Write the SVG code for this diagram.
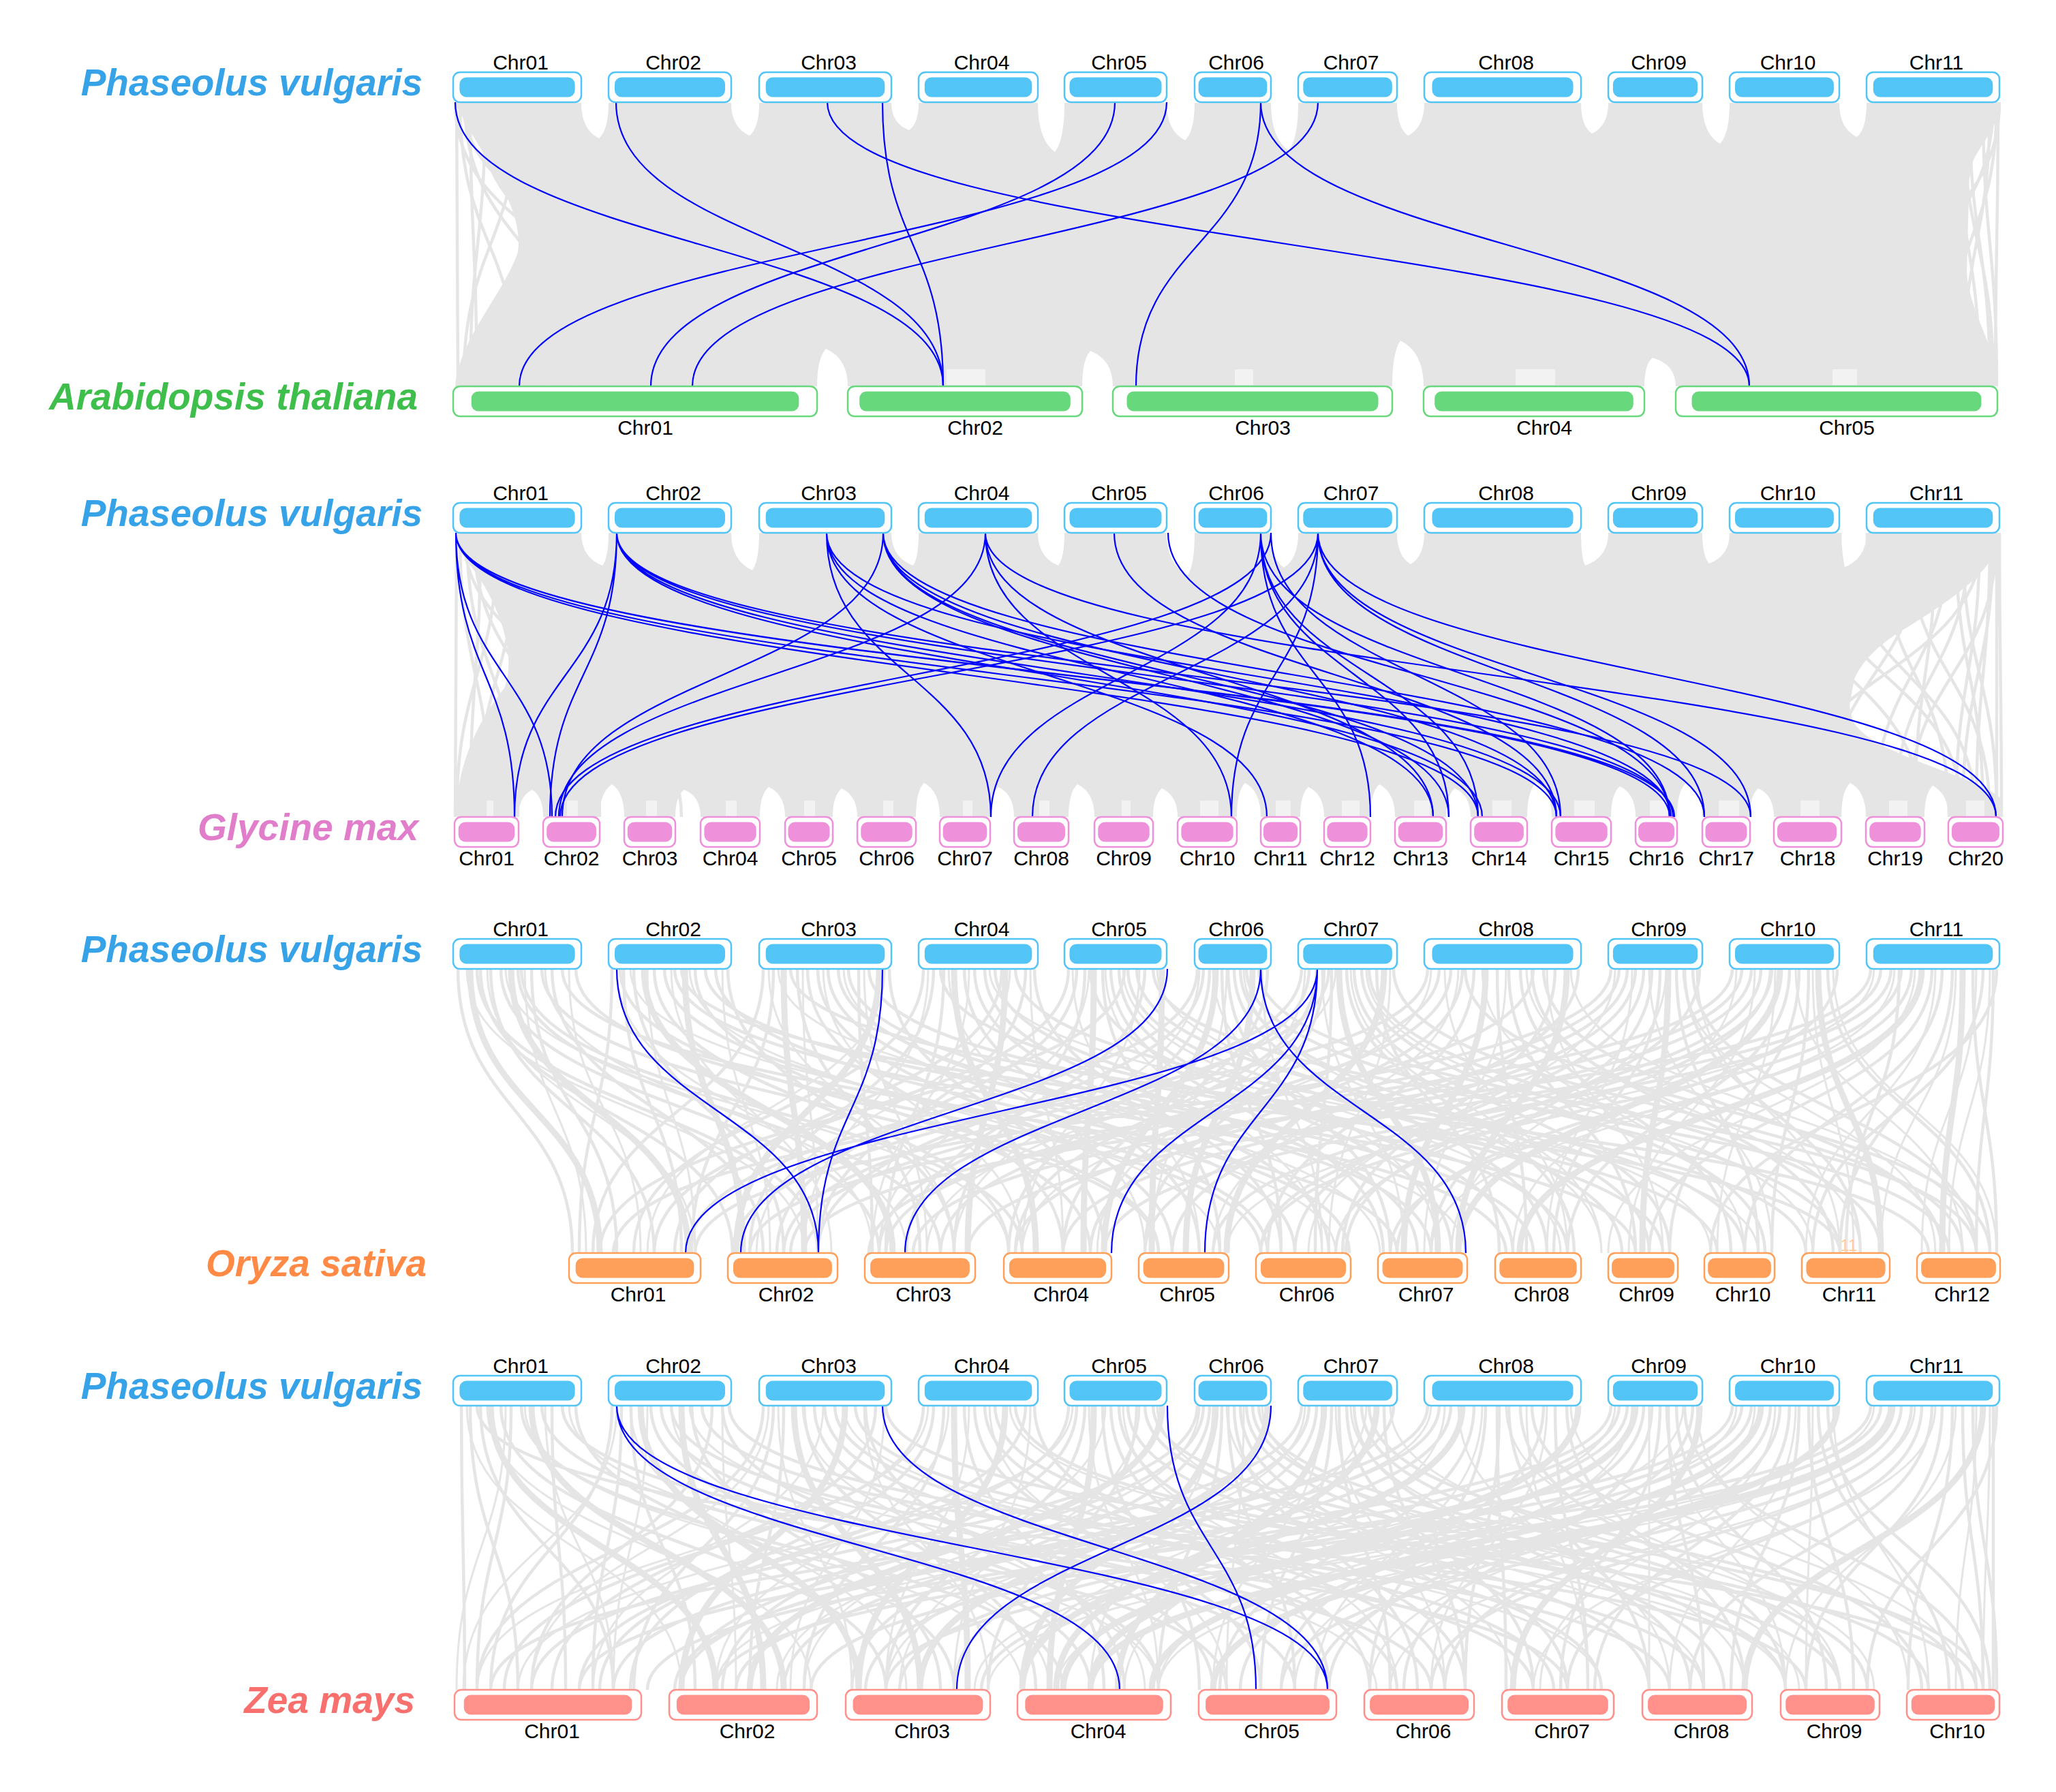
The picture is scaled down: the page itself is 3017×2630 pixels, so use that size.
<svg xmlns="http://www.w3.org/2000/svg" width="3017" height="2630" viewBox="0 0 3017 2630">
<style>
.solid{fill:#E5E5E5}
.g{fill:none;stroke:#E5E5E5;stroke-width:4.5}
.g3{fill:none;stroke:#E5E5E5;stroke-width:3}
.gt{fill:none;stroke:#E5E5E5;stroke-width:9}
.patch{fill:#F2F2F2}
.b{fill:none;stroke:#0000FF;stroke-width:2.2}
.lbl{font-family:"Liberation Sans",Arial,sans-serif;font-size:30px;fill:#000;text-anchor:middle}
.sp{font-family:"Liberation Sans",Arial,sans-serif;font-size:55px;font-weight:bold;font-style:italic;text-anchor:end}
.pvo{fill:#fff;stroke:#52C4F6;stroke-width:2.5}.pvi{fill:#52C4F6}
.ato{fill:#fff;stroke:#68D87C;stroke-width:2.5}.ati{fill:#68D87C}
.gmo{fill:#fff;stroke:#EE90DA;stroke-width:2.5}.gmi{fill:#EE90DA}
.oso{fill:#fff;stroke:#FFA05A;stroke-width:2.5}.osi{fill:#FFA05A}
.zmo{fill:#fff;stroke:#FF918A;stroke-width:2.5}.zmi{fill:#FF918A}
</style>
<rect width="3017" height="2630" fill="#fff"/>
<g id="connectors">
<g id="s1-grey">
<path class="solid" d="M668 151L853 151Q853 190 879 203Q893 190 893 151L1073 151Q1073 187 1100 199Q1114 187 1114 151L1308 151Q1308 181 1334 191Q1348 181 1348 151L1523 151Q1523 205 1548 223Q1562 205 1562 151L1712 151Q1712 192 1739 206Q1753 192 1753 151L1865 151Q1865 203 1891 221Q1905 203 1905 151L2050 151Q2050 187 2066 199Q2090 187 2090 151L2320 151Q2320 185 2336 196Q2360 185 2360 151L2498 151Q2498 196 2524 211Q2538 196 2538 151L2699 151Q2699 189 2725 201Q2739 189 2739 151L2934 151C2934 190 2900 215 2890 250L2886 400C2890 460 2931 510 2931 567L2459 567Q2459 535 2425 525Q2413 535 2413 567L2089 567Q2089 517 2055 500Q2043 517 2043 567L1633 567Q1633 528 1600 515Q1588 528 1588 567L1244 567Q1244 526 1212 512Q1199 526 1199 567L668 567C672 500 740 430 760 370C770 300 700 220 668 151Z"/>
<path class="g" transform="translate(0,150)" d="M670 0C670 208 672 208 672 417M675 0C675 208 760 208 760 417M682 0C682 208 850 208 850 417M690 0C690 208 700 208 700 417M700 0C700 208 920 208 920 417M712 0C712 208 690 208 690 417M725 0C725 208 1000 208 1000 417M740 0C740 208 800 208 800 417M680 0C680 208 1100 208 1100 417M760 0C760 208 680 208 680 417M668 0C668 208 950 208 950 417M700 0C700 208 1150 208 1150 417M2932 0C2932 208 2928 208 2928 417M2920 0C2920 208 2880 208 2880 417M2910 0C2910 208 2930 208 2930 417M2900 0C2900 208 2800 208 2800 417M2890 0C2890 208 2920 208 2920 417M2930 0C2930 208 2850 208 2850 417M2880 0C2880 208 2925 208 2925 417M2925 0C2925 208 2760 208 2760 417M2870 0C2870 208 2905 208 2905 417M2934 0C2934 208 2700 208 2700 417"/>
<rect class="patch" x="1389" y="542" width="57" height="23"/>
<rect class="patch" x="1812" y="542" width="27" height="23"/>
<rect class="patch" x="2224" y="542" width="58" height="23"/>
<rect class="patch" x="2689" y="542" width="36" height="23"/>
</g>
<g id="s1-blue" class="b" transform="translate(0,150)">
<path d="M668 0C668 208.5 1384 208.5 1384 417"/>
<path d="M904 0C904 208.5 1384 208.5 1384 417"/>
<path d="M1214 0C1214 208.5 2567 208.5 2567 417"/>
<path d="M1295 0C1295 208.5 1384 208.5 1384 417"/>
<path d="M1636 0C1636 208.5 955 208.5 955 417"/>
<path d="M1712 0C1712 208.5 762 208.5 762 417"/>
<path d="M1934 0C1934 208.5 1016 208.5 1016 417"/>
<path d="M1850 0C1850 208.5 1667 208.5 1667 417"/>
<path d="M1850 0C1850 208.5 2567 208.5 2567 417"/>
</g>
<g id="s2-grey">
<path class="solid" d="M668 782L853 782Q853 818 884 830Q893 818 893 782L1073 782Q1073 823 1104 837Q1114 823 1114 782L1308 782Q1308 818 1340 830Q1348 818 1348 782L1523 782Q1523 818 1553 830Q1562 818 1562 782L1712 782Q1712 828 1743 844Q1753 828 1753 782L1865 782Q1865 820 1884 833Q1905 820 1905 782L2050 782Q2050 816 2070 828Q2090 816 2090 782L2320 782Q2320 818 2326 830Q2360 818 2360 782L2498 782Q2498 816 2508 827Q2538 816 2538 782L2699 782Q2699 821 2703 834Q2739 821 2739 782L2934 782C2934 830 2880 870 2800 920C2730 960 2700 1010 2720 1060C2750 1110 2910 1140 2939 1175L2939 1199L2859 1199Q2859 1165 2836 1153Q2824 1165 2824 1199L2738 1199Q2738 1161 2715 1149Q2702 1161 2702 1199L2603 1199Q2603 1167 2580 1157Q2568 1167 2568 1199L2498 1199Q2498 1161 2474 1149Q2461 1161 2461 1199L2400 1199Q2400 1165 2377 1154Q2364 1165 2364 1199L2277 1199Q2277 1161 2254 1149Q2241 1161 2241 1199L2158 1199Q2158 1167 2135 1157Q2122 1167 2122 1199L2047 1199Q2047 1163 2024 1151Q2011 1163 2011 1199L1943 1199Q1943 1166 1920 1155Q1908 1166 1908 1199L1850 1199Q1850 1161 1827 1149Q1815 1161 1815 1199L1728 1199Q1728 1168 1705 1157Q1692 1168 1692 1199L1606 1199Q1606 1163 1581 1151Q1568 1163 1568 1199L1488 1199Q1488 1166 1465 1155Q1453 1166 1453 1199L1379 1199Q1379 1161 1356 1149Q1344 1161 1344 1199L1258 1199Q1258 1168 1235 1157Q1222 1168 1222 1199L1152 1199Q1152 1166 1128 1155Q1115 1166 1115 1199L1028 1199Q1028 1169 1004 1159Q991 1169 991 1199L916 1199Q916 1163 898 1151Q880 1163 880 1199L797 1199Q797 1169 781 1159Q761 1169 761 1199L668 1199C672 1120 700 1060 740 1010C760 960 730 880 690 830C675 810 668 795 668 782Z"/>
<path class="g" transform="translate(0,782)" d="M670 0C670 208 668 208 668 417M675 0C675 208 720 208 720 417M685 0C685 208 760 208 760 417M695 0C695 208 840 208 840 417M705 0C705 208 690 208 690 417M720 0C720 208 880 208 880 417M740 0C740 208 950 208 950 417M760 0C760 208 700 208 700 417M680 0C680 208 1000 208 1000 417M700 0C700 208 1050 208 1050 417M730 0C730 208 670 208 670 417M2934 0C2934 208 2937 208 2937 417M2920 0C2920 208 2900 208 2900 417M2905 0C2905 208 2870 208 2870 417M2890 0C2890 208 2780 208 2780 417M2880 0C2880 208 2930 208 2930 417M2860 0C2860 208 2750 208 2750 417M2840 0C2840 208 2810 208 2810 417M2820 0C2820 208 2680 208 2680 417M2800 0C2800 208 2920 208 2920 417M2780 0C2780 208 2640 208 2640 417M2760 0C2760 208 2860 208 2860 417M2740 0C2740 208 2700 208 2700 417M2930 0C2930 208 2800 208 2800 417M2910 0C2910 208 2620 208 2620 417M2870 0C2870 208 2910 208 2910 417M2700 0C2700 208 2900 208 2900 417M2650 0C2650 208 2880 208 2880 417M2600 0C2600 208 2820 208 2820 417M2930 0C2930 208 2930 208 2930 417M2925 0C2925 208 2880 208 2880 417"/>
<g class="patch">
<rect x="714" y="1175" width="10" height="23"/><rect x="832" y="1175" width="16" height="23"/><rect x="948" y="1175" width="16" height="23"/><rect x="1065" y="1175" width="16" height="23"/><rect x="1180" y="1175" width="16" height="23"/><rect x="1296" y="1175" width="15" height="23"/><rect x="1413" y="1175" width="14" height="23"/><rect x="1525" y="1175" width="15" height="23"/><rect x="1646" y="1175" width="13" height="23"/><rect x="1761" y="1175" width="27" height="23"/><rect x="1872" y="1175" width="22" height="23"/><rect x="1969" y="1175" width="26" height="23"/><rect x="2075" y="1175" width="23" height="23"/><rect x="2190" y="1175" width="28" height="23"/><rect x="2310" y="1175" width="30" height="23"/><rect x="2421" y="1175" width="26" height="23"/><rect x="2522" y="1175" width="30" height="23"/><rect x="2642" y="1175" width="28" height="23"/><rect x="2772" y="1175" width="27" height="23"/><rect x="2885" y="1175" width="27" height="23"/>
</g>
</g>
<g id="s2-blue" class="b" transform="translate(0,782)">
<path d="M669 0C669 208.5 755 208.5 755 417M669 0C669 208.5 810 208.5 810 417M669 0C669 208.5 2169 208.5 2169 417M669 0C669 208.5 2284 208.5 2284 417M669 0C669 208.5 2450 208.5 2450 417M669 0C669 208.5 2457 208.5 2457 417"/>
<path d="M905 0C905 208.5 755 208.5 755 417M905 0C905 208.5 807 208.5 807 417M905 0C905 208.5 2175 208.5 2175 417M905 0C905 208.5 2290 208.5 2290 417M905 0C905 208.5 2455 208.5 2455 417M905 0C905 208.5 2569 208.5 2569 417"/>
<path d="M1213 0C1213 208.5 1454 208.5 1454 417M1213 0C1213 208.5 1859 208.5 1859 417M1213 0C1213 208.5 2103 208.5 2103 417M1213 0C1213 208.5 2452 208.5 2452 417"/>
<path d="M1296 0C1296 208.5 825 208.5 825 417M1296 0C1296 208.5 2126 208.5 2126 417M1296 0C1296 208.5 2169 208.5 2169 417M1296 0C1296 208.5 2284 208.5 2284 417M1296 0C1296 208.5 2501 208.5 2501 417"/>
<path d="M1446 0C1446 208.5 820 208.5 820 417M1446 0C1446 208.5 1807 208.5 1807 417M1446 0C1446 208.5 2103 208.5 2103 417M1446 0C1446 208.5 2929 208.5 2929 417"/>
<path d="M1635 0C1635 208.5 2284 208.5 2284 417M1714 0C1714 208.5 2450 208.5 2450 417"/>
<path d="M1850 0C1850 208.5 1454 208.5 1454 417M1850 0C1850 208.5 2011 208.5 2011 417M1850 0C1850 208.5 2126 208.5 2126 417M1850 0C1850 208.5 2169 208.5 2169 417M1850 0C1850 208.5 2450 208.5 2450 417M1865 0C1865 208.5 815 208.5 815 417M1865 0C1865 208.5 2290 208.5 2290 417"/>
<path d="M1934 0C1934 208.5 822 208.5 822 417M1934 0C1934 208.5 1515 208.5 1515 417M1934 0C1934 208.5 1807 208.5 1807 417M1934 0C1934 208.5 2501 208.5 2501 417M1934 0C1934 208.5 2569 208.5 2569 417M1934 0C1934 208.5 2929 208.5 2929 417"/>
</g>
<g id="s3-grey" transform="translate(0,1422)">
<path class="g" d="M672 0C672 208 840 208 840 417M690 0C690 208 880 208 880 417M705 0C705 208 1075 208 1075 417M720 0C720 208 960 208 960 417M735 0C735 208 1290 208 1290 417M750 0C750 208 1010 208 1010 417M765 0C765 208 1500 208 1500 417M780 0C780 208 905 208 905 417M795 0C795 208 1700 208 1700 417M810 0C810 208 1120 208 1120 417M825 0C825 208 2050 208 2050 417M845 0C845 208 1850 208 1850 417M700 0C700 208 1200 208 1200 417M760 0C760 208 1380 208 1380 417M898 0C898 208 850 208 850 417M915 0C915 208 1000 208 1000 417M930 0C930 208 1150 208 1150 417M945 0C945 208 1310 208 1310 417M960 0C960 208 1480 208 1480 417M975 0C975 208 1860 208 1860 417M990 0C990 208 2210 208 2210 417M1005 0C1005 208 1090 208 1090 417M1020 0C1020 208 1600 208 1600 417M1035 0C1035 208 2400 208 2400 417M1050 0C1050 208 1980 208 1980 417M1068 0C1068 208 1400 208 1400 417M910 0C910 208 1700 208 1700 417M1000 0C1000 208 2700 208 2700 417M1120 0C1120 208 870 208 870 417M1135 0C1135 208 1015 208 1015 417M1150 0C1150 208 1180 208 1180 417M1170 0C1170 208 1350 208 1350 417M1185 0C1185 208 1560 208 1560 417M1200 0C1200 208 1720 208 1720 417M1215 0C1215 208 1900 208 1900 417M1230 0C1230 208 2100 208 2100 417M1245 0C1245 208 2250 208 2250 417M1260 0C1260 208 1280 208 1280 417M1275 0C1275 208 2520 208 2520 417M1290 0C1290 208 1080 208 1080 417M1305 0C1305 208 1620 208 1620 417M1160 0C1160 208 2830 208 2830 417M1355 0C1355 208 930 208 930 417M1370 0C1370 208 1100 208 1100 417M1385 0C1385 208 1300 208 1300 417M1400 0C1400 208 1520 208 1520 417M1415 0C1415 208 1760 208 1760 417M1430 0C1430 208 1950 208 1950 417M1445 0C1445 208 2080 208 2080 417M1460 0C1460 208 2300 208 2300 417M1475 0C1475 208 1420 208 1420 417M1490 0C1490 208 2650 208 2650 417M1505 0C1505 208 1200 208 1200 417M1518 0C1518 208 1880 208 1880 417M1380 0C1380 208 2440 208 2440 417M1470 0C1470 208 990 208 990 417M1568 0C1568 208 960 208 960 417M1580 0C1580 208 1140 208 1140 417M1592 0C1592 208 1400 208 1400 417M1605 0C1605 208 1590 208 1590 417M1618 0C1618 208 1790 208 1790 417M1630 0C1630 208 2030 208 2030 417M1642 0C1642 208 2130 208 2130 417M1655 0C1655 208 2380 208 2380 417M1668 0C1668 208 2560 208 2560 417M1680 0C1680 208 1330 208 1330 417M1692 0C1692 208 2860 208 2860 417M1705 0C1705 208 1690 208 1690 417M1600 0C1600 208 2220 208 2220 417M1650 0C1650 208 880 208 880 417M1757 0C1757 208 1010 208 1010 417M1766 0C1766 208 1200 208 1200 417M1775 0C1775 208 1480 208 1480 417M1784 0C1784 208 1620 208 1620 417M1793 0C1793 208 1880 208 1880 417M1802 0C1802 208 2040 208 2040 417M1811 0C1811 208 2270 208 2270 417M1820 0C1820 208 2420 208 2420 417M1829 0C1829 208 2700 208 2700 417M1838 0C1838 208 1740 208 1740 417M1847 0C1847 208 2900 208 2900 417M1860 0C1860 208 1560 208 1560 417M1910 0C1910 208 1075 208 1075 417M1921 0C1921 208 1290 208 1290 417M1932 0C1932 208 1490 208 1490 417M1943 0C1943 208 1680 208 1680 417M1954 0C1954 208 1930 208 1930 417M1965 0C1965 208 2110 208 2110 417M1976 0C1976 208 2310 208 2310 417M1987 0C1987 208 2450 208 2450 417M1998 0C1998 208 2590 208 2590 417M2009 0C2009 208 2760 208 2760 417M2020 0C2020 208 2200 208 2200 417M2031 0C2031 208 1800 208 1800 417M2045 0C2045 208 2880 208 2880 417M1950 0C1950 208 1150 208 1150 417M2095 0C2095 208 900 208 900 417M2112 0C2112 208 1160 208 1160 417M2129 0C2129 208 1380 208 1380 417M2146 0C2146 208 1600 208 1600 417M2163 0C2163 208 1860 208 1860 417M2180 0C2180 208 2060 208 2060 417M2197 0C2197 208 2240 208 2240 417M2214 0C2214 208 2400 208 2400 417M2231 0C2231 208 2540 208 2540 417M2248 0C2248 208 2690 208 2690 417M2265 0C2265 208 2850 208 2850 417M2282 0C2282 208 1970 208 1970 417M2299 0C2299 208 2140 208 2140 417M2316 0C2316 208 1720 208 1720 417M2150 0C2150 208 2920 208 2920 417M2250 0C2250 208 1300 208 1300 417M2364 0C2364 208 1020 208 1020 417M2376 0C2376 208 1275 208 1275 417M2388 0C2388 208 1490 208 1490 417M2400 0C2400 208 1680 208 1680 417M2412 0C2412 208 1900 208 1900 417M2424 0C2424 208 2100 208 2100 417M2436 0C2436 208 2280 208 2280 417M2448 0C2448 208 2410 208 2410 417M2460 0C2460 208 2580 208 2580 417M2472 0C2472 208 2730 208 2730 417M2484 0C2484 208 2900 208 2900 417M2494 0C2494 208 1975 208 1975 417M2542 0C2542 208 1100 208 1100 417M2556 0C2556 208 1340 208 1340 417M2570 0C2570 208 1560 208 1560 417M2584 0C2584 208 1780 208 1780 417M2598 0C2598 208 1960 208 1960 417M2612 0C2612 208 2140 208 2140 417M2626 0C2626 208 2300 208 2300 417M2640 0C2640 208 2450 208 2450 417M2654 0C2654 208 2600 208 2600 417M2668 0C2668 208 2760 208 2760 417M2682 0C2682 208 2920 208 2920 417M2696 0C2696 208 2050 208 2050 417M2600 0C2600 208 1850 208 1850 417M2745 0C2745 208 1180 208 1180 417M2760 0C2760 208 1420 208 1420 417M2775 0C2775 208 1620 208 1620 417M2790 0C2790 208 1850 208 1850 417M2805 0C2805 208 2040 208 2040 417M2820 0C2820 208 2230 208 2230 417M2835 0C2835 208 2420 208 2420 417M2850 0C2850 208 2560 208 2560 417M2865 0C2865 208 2700 208 2700 417M2880 0C2880 208 2850 208 2850 417M2895 0C2895 208 2930 208 2930 417M2910 0C2910 208 2660 208 2660 417M2925 0C2925 208 2900 208 2900 417M2787 0C2787 208 2709 208 2709 417M2930 0C2930 208 2510 208 2510 417"/>
<path class="g3" d="M685 0C685 208 1180 208 1180 417M715 0C715 208 1020 208 1020 417M742 0C742 208 1480 208 1480 417M770 0C770 208 860 208 860 417M800 0C800 208 1330 208 1330 417M835 0C835 208 940 208 940 417M905 0C905 208 1280 208 1280 417M925 0C925 208 1960 208 1960 417M950 0C950 208 1020 208 1020 417M985 0C985 208 1220 208 1220 417M1012 0C1012 208 1790 208 1790 417M1060 0C1060 208 1130 208 1130 417M1128 0C1128 208 1400 208 1400 417M1142 0C1142 208 2150 208 2150 417M1178 0C1178 208 1200 208 1200 417M1208 0C1208 208 1500 208 1500 417M1238 0C1238 208 2025 208 2025 417M1268 0C1268 208 1360 208 1360 417M1298 0C1298 208 950 208 950 417M1362 0C1362 208 1180 208 1180 417M1392 0C1392 208 1680 208 1680 417M1422 0C1422 208 1280 208 1280 417M1452 0C1452 208 2580 208 2580 417M1482 0C1482 208 1110 208 1110 417M1512 0C1512 208 1560 208 1560 417M1574 0C1574 208 1760 208 1760 417M1598 0C1598 208 1290 208 1290 417M1622 0C1622 208 1940 208 1940 417M1648 0C1648 208 2290 208 2290 417M1672 0C1672 208 1500 208 1500 417M1698 0C1698 208 2510 208 2510 417M1760 0C1760 208 1400 208 1400 417M1780 0C1780 208 2110 208 2110 417M1800 0C1800 208 1690 208 1690 417M1825 0C1825 208 2350 208 2350 417M1852 0C1852 208 1940 208 1940 417M1915 0C1915 208 1610 208 1610 417M1940 0C1940 208 2060 208 2060 417M1960 0C1960 208 1360 208 1360 417M1982 0C1982 208 2350 208 2350 417M2005 0C2005 208 2660 208 2660 417M2040 0C2040 208 1950 208 1950 417M2100 0C2100 208 1500 208 1500 417M2120 0C2120 208 2300 208 2300 417M2140 0C2140 208 1780 208 1780 417M2175 0C2175 208 2560 208 2560 417M2210 0C2210 208 2090 208 2090 417M2240 0C2240 208 2730 208 2730 417M2270 0C2270 208 2440 208 2440 417M2305 0C2305 208 2900 208 2900 417M2370 0C2370 208 1920 208 1920 417M2395 0C2395 208 2270 208 2270 417M2420 0C2420 208 2600 208 2600 417M2445 0C2445 208 2130 208 2130 417M2470 0C2470 208 2840 208 2840 417M2490 0C2490 208 2700 208 2700 417M2548 0C2548 208 2220 208 2220 417M2575 0C2575 208 2390 208 2390 417M2605 0C2605 208 2520 208 2520 417M2635 0C2635 208 2880 208 2880 417M2660 0C2660 208 2720 208 2720 417M2690 0C2690 208 2930 208 2930 417M2750 0C2750 208 1800 208 1800 417M2780 0C2780 208 2100 208 2100 417M2810 0C2810 208 2360 208 2360 417M2840 0C2840 208 2650 208 2650 417M2870 0C2870 208 2760 208 2760 417M2900 0C2900 208 2820 208 2820 417M2920 0C2920 208 2860 208 2860 417"/>
<path class="gt" d="M690 0C690 208 880 208 880 417M750 0C750 208 1010 208 1010 417M945 0C945 208 1310 208 1310 417M1005 0C1005 208 1090 208 1090 417M1150 0C1150 208 1180 208 1180 417M1290 0C1290 208 1080 208 1080 417M1400 0C1400 208 1520 208 1520 417M1475 0C1475 208 1420 208 1420 417M1605 0C1605 208 1590 208 1590 417M1705 0C1705 208 1690 208 1690 417M1784 0C1784 208 1620 208 1620 417M1838 0C1838 208 1740 208 1740 417M1965 0C1965 208 2110 208 2110 417M2031 0C2031 208 1800 208 1800 417M2180 0C2180 208 2060 208 2060 417M2299 0C2299 208 2140 208 2140 417M2448 0C2448 208 2410 208 2410 417M2612 0C2612 208 2140 208 2140 417M2668 0C2668 208 2760 208 2760 417M2820 0C2820 208 2230 208 2230 417M2880 0C2880 208 2850 208 2850 417"/>
</g>
<g id="s3-blue" class="b" transform="translate(0,1422)">
<path d="M905 0C905 208.5 1201 208.5 1201 417M1295 0C1295 208.5 1201 208.5 1201 417M1713 0C1713 208.5 1087 208.5 1087 417M1850 0C1850 208.5 1328 208.5 1328 417M1850 0C1850 208.5 2151 208.5 2151 417M1933 0C1933 208.5 1006 208.5 1006 417M1933 0C1933 208.5 1631 208.5 1631 417M1933 0C1933 208.5 1768 208.5 1768 417"/>
</g>
<g id="s4-grey" transform="translate(0,2063)">
<path class="g" d="M677 0C677 208 682 208 682 417M690 0C690 208 760 208 760 417M705 0C705 208 900 208 900 417M720 0C720 208 1050 208 1050 417M735 0C735 208 1300 208 1300 417M750 0C750 208 700 208 700 417M765 0C765 208 1560 208 1560 417M780 0C780 208 1150 208 1150 417M795 0C795 208 1800 208 1800 417M810 0C810 208 830 208 830 417M825 0C825 208 2100 208 2100 417M845 0C845 208 1400 208 1400 417M700 0C700 208 2300 208 2300 417M898 0C898 208 720 208 720 417M912 0C912 208 870 208 870 417M926 0C926 208 1020 208 1020 417M940 0C940 208 1260 208 1260 417M955 0C955 208 1600 208 1600 417M970 0C970 208 1900 208 1900 417M985 0C985 208 2250 208 2250 417M1000 0C1000 208 1120 208 1120 417M1015 0C1015 208 1380 208 1380 417M1030 0C1030 208 2450 208 2450 417M1045 0C1045 208 780 208 780 417M1060 0C1060 208 1700 208 1700 417M1070 0C1070 208 2650 208 2650 417M1120 0C1120 208 700 208 700 417M1135 0C1135 208 930 208 930 417M1150 0C1150 208 1100 208 1100 417M1165 0C1165 208 1350 208 1350 417M1180 0C1180 208 1520 208 1520 417M1195 0C1195 208 1780 208 1780 417M1210 0C1210 208 2050 208 2050 417M1225 0C1225 208 2280 208 2280 417M1240 0C1240 208 1000 208 1000 417M1255 0C1255 208 2500 208 2500 417M1270 0C1270 208 1650 208 1650 417M1285 0C1285 208 810 208 810 417M1300 0C1300 208 2900 208 2900 417M1355 0C1355 208 740 208 740 417M1370 0C1370 208 925 208 925 417M1385 0C1385 208 1180 208 1180 417M1400 0C1400 208 1420 208 1420 417M1415 0C1415 208 1620 208 1620 417M1430 0C1430 208 1850 208 1850 417M1445 0C1445 208 2120 208 2120 417M1460 0C1460 208 2350 208 2350 417M1475 0C1475 208 1260 208 1260 417M1490 0C1490 208 2700 208 2700 417M1505 0C1505 208 880 208 880 417M1518 0C1518 208 2010 208 2010 417M1568 0C1568 208 850 208 850 417M1580 0C1580 208 1060 208 1060 417M1592 0C1592 208 1300 208 1300 417M1605 0C1605 208 1540 208 1540 417M1618 0C1618 208 1760 208 1760 417M1630 0C1630 208 1950 208 1950 417M1642 0C1642 208 2150 208 2150 417M1655 0C1655 208 2420 208 2420 417M1668 0C1668 208 1450 208 1450 417M1680 0C1680 208 2620 208 2620 417M1692 0C1692 208 2830 208 2830 417M1705 0C1705 208 1100 208 1100 417M1757 0C1757 208 780 208 780 417M1766 0C1766 208 1000 208 1000 417M1775 0C1775 208 1250 208 1250 417M1784 0C1784 208 1500 208 1500 417M1793 0C1793 208 1700 208 1700 417M1802 0C1802 208 1900 208 1900 417M1811 0C1811 208 2080 208 2080 417M1820 0C1820 208 2300 208 2300 417M1829 0C1829 208 2530 208 2530 417M1838 0C1838 208 2740 208 2740 417M1847 0C1847 208 2910 208 2910 417M1860 0C1860 208 1350 208 1350 417M1910 0C1910 208 900 208 900 417M1921 0C1921 208 1150 208 1150 417M1932 0C1932 208 1400 208 1400 417M1943 0C1943 208 1640 208 1640 417M1954 0C1954 208 1850 208 1850 417M1965 0C1965 208 2040 208 2040 417M1976 0C1976 208 2250 208 2250 417M1987 0C1987 208 2480 208 2480 417M1998 0C1998 208 2700 208 2700 417M2009 0C2009 208 2880 208 2880 417M2020 0C2020 208 1550 208 1550 417M2031 0C2031 208 2150 208 2150 417M2045 0C2045 208 1000 208 1000 417M2095 0C2095 208 720 208 720 417M2112 0C2112 208 990 208 990 417M2129 0C2129 208 1270 208 1270 417M2146 0C2146 208 1500 208 1500 417M2163 0C2163 208 1790 208 1790 417M2180 0C2180 208 2010 208 2010 417M2197 0C2197 208 2210 208 2210 417M2214 0C2214 208 2420 208 2420 417M2231 0C2231 208 2620 208 2620 417M2248 0C2248 208 2820 208 2820 417M2265 0C2265 208 1880 208 1880 417M2282 0C2282 208 2330 208 2330 417M2299 0C2299 208 2560 208 2560 417M2316 0C2316 208 1600 208 1600 417M2200 0C2200 208 2150 208 2150 417M2364 0C2364 208 850 208 850 417M2376 0C2376 208 1080 208 1080 417M2388 0C2388 208 1320 208 1320 417M2400 0C2400 208 1560 208 1560 417M2412 0C2412 208 1820 208 1820 417M2424 0C2424 208 2060 208 2060 417M2436 0C2436 208 2290 208 2290 417M2448 0C2448 208 2500 208 2500 417M2460 0C2460 208 2680 208 2680 417M2472 0C2472 208 2900 208 2900 417M2484 0C2484 208 1950 208 1950 417M2494 0C2494 208 2220 208 2220 417M2542 0C2542 208 950 208 950 417M2556 0C2556 208 1190 208 1190 417M2570 0C2570 208 1440 208 1440 417M2584 0C2584 208 1690 208 1690 417M2598 0C2598 208 1930 208 1930 417M2612 0C2612 208 2120 208 2120 417M2626 0C2626 208 2340 208 2340 417M2640 0C2640 208 2540 208 2540 417M2654 0C2654 208 2720 208 2720 417M2668 0C2668 208 2860 208 2860 417M2682 0C2682 208 2920 208 2920 417M2696 0C2696 208 1780 208 1780 417M2745 0C2745 208 1050 208 1050 417M2760 0C2760 208 1300 208 1300 417M2775 0C2775 208 1600 208 1600 417M2790 0C2790 208 1880 208 1880 417M2805 0C2805 208 2100 208 2100 417M2820 0C2820 208 2300 208 2300 417M2835 0C2835 208 2480 208 2480 417M2850 0C2850 208 2650 208 2650 417M2865 0C2865 208 2800 208 2800 417M2880 0C2880 208 2910 208 2910 417M2895 0C2895 208 2930 208 2930 417M2910 0C2910 208 2560 208 2560 417M2925 0C2925 208 2925 208 2925 417M2930 0C2930 208 2740 208 2740 417"/>
<path class="g3" d="M685 0C685 208 1000 208 1000 417M715 0C715 208 1190 208 1190 417M742 0C742 208 670 208 670 417M770 0C770 208 1500 208 1500 417M800 0C800 208 900 208 900 417M835 0C835 208 1700 208 1700 417M905 0C905 208 680 208 680 417M925 0C925 208 1330 208 1330 417M950 0C950 208 900 208 900 417M985 0C985 208 1540 208 1540 417M1012 0C1012 208 2020 208 2020 417M1060 0C1060 208 1080 208 1080 417M1128 0C1128 208 780 208 780 417M1142 0C1142 208 1250 208 1250 417M1178 0C1178 208 1680 208 1680 417M1208 0C1208 208 870 208 870 417M1238 0C1238 208 2350 208 2350 417M1268 0C1268 208 1450 208 1450 417M1298 0C1298 208 1160 208 1160 417M1362 0C1362 208 700 208 700 417M1392 0C1392 208 1050 208 1050 417M1422 0C1422 208 1300 208 1300 417M1452 0C1452 208 1800 208 1800 417M1482 0C1482 208 2620 208 2620 417M1512 0C1512 208 1400 208 1400 417M1574 0C1574 208 760 208 760 417M1598 0C1598 208 1700 208 1700 417M1622 0C1622 208 1180 208 1180 417M1648 0C1648 208 2050 208 2050 417M1672 0C1672 208 1320 208 1320 417M1698 0C1698 208 2500 208 2500 417M1760 0C1760 208 1140 208 1140 417M1780 0C1780 208 1600 208 1600 417M1800 0C1800 208 2220 208 2220 417M1825 0C1825 208 1800 208 1800 417M1852 0C1852 208 2640 208 2640 417M1915 0C1915 208 1300 208 1300 417M1940 0C1940 208 1780 208 1780 417M1960 0C1960 208 2120 208 2120 417M1982 0C1982 208 2560 208 2560 417M2005 0C2005 208 1500 208 1500 417M2040 0C2040 208 2750 208 2750 417M2100 0C2100 208 1050 208 1050 417M2120 0C2120 208 1650 208 1650 417M2140 0C2140 208 2450 208 2450 417M2175 0C2175 208 1930 208 1930 417M2210 0C2210 208 2700 208 2700 417M2240 0C2240 208 2330 208 2330 417M2270 0C2270 208 2100 208 2100 417M2305 0C2305 208 2880 208 2880 417M2370 0C2370 208 1430 208 1430 417M2395 0C2395 208 1900 208 1900 417M2420 0C2420 208 2420 208 2420 417M2445 0C2445 208 2620 208 2620 417M2470 0C2470 208 1700 208 1700 417M2490 0C2490 208 2800 208 2800 417M2548 0C2548 208 1550 208 1550 417M2575 0C2575 208 2010 208 2010 417M2605 0C2605 208 2260 208 2260 417M2635 0C2635 208 2450 208 2450 417M2660 0C2660 208 2650 208 2650 417M2690 0C2690 208 2830 208 2830 417M2750 0C2750 208 1450 208 1450 417M2780 0C2780 208 1700 208 1700 417M2810 0C2810 208 2040 208 2040 417M2840 0C2840 208 2250 208 2250 417M2870 0C2870 208 2620 208 2620 417M2900 0C2900 208 2870 208 2870 417M2920 0C2920 208 2910 208 2910 417"/>
<path class="gt" d="M720 0C720 208 1050 208 1050 417M780 0C780 208 1150 208 1150 417M940 0C940 208 1260 208 1260 417M1000 0C1000 208 1120 208 1120 417M1165 0C1165 208 1350 208 1350 417M1240 0C1240 208 1000 208 1000 417M1400 0C1400 208 1420 208 1420 417M1475 0C1475 208 1260 208 1260 417M1605 0C1605 208 1540 208 1540 417M1705 0C1705 208 1100 208 1100 417M1784 0C1784 208 1500 208 1500 417M1860 0C1860 208 1350 208 1350 417M1943 0C1943 208 1640 208 1640 417M2020 0C2020 208 1550 208 1550 417M2146 0C2146 208 1500 208 1500 417M2316 0C2316 208 1600 208 1600 417M2400 0C2400 208 1560 208 1560 417M2494 0C2494 208 2220 208 2220 417M2584 0C2584 208 1690 208 1690 417M2696 0C2696 208 1780 208 1780 417M2775 0C2775 208 1600 208 1600 417M2910 0C2910 208 2560 208 2560 417"/>
</g>
<g id="s4-blue" class="b" transform="translate(0,2063)">
<path d="M905 0C905 208.5 1948 208.5 1948 417M905 0C905 208.5 1643 208.5 1643 417M1295 0C1295 208.5 1948 208.5 1948 417M1713 0C1713 208.5 1843 208.5 1843 417M1865 0C1865 208.5 1404 208.5 1404 417"/>
</g>
</g>
<g id="species-labels">
<text class="sp" x="620" y="140" fill="#36A2E8">Phaseolus vulgaris</text>
<text class="sp" x="613" y="601" fill="#3EBF4B">Arabidopsis thaliana</text>
<text class="sp" x="620" y="772" fill="#36A2E8">Phaseolus vulgaris</text>
<text class="sp" x="614" y="1233" fill="#E07ECB">Glycine max</text>
<text class="sp" x="620" y="1412" fill="#36A2E8">Phaseolus vulgaris</text>
<text class="sp" x="626" y="1873" fill="#FF8A45">Oryza sativa</text>
<text class="sp" x="620" y="2053" fill="#36A2E8">Phaseolus vulgaris</text>
<text class="sp" x="609" y="2514" fill="#F7706E">Zea mays</text>
</g>
<g id="s1-pv">
<g id="s1-pv-chr01"><rect class="pvo" x="665" y="106" width="188" height="44" rx="10"/><rect class="pvi" x="674.4" y="113.5" width="169.2" height="29" rx="10"/><text class="lbl" x="764" y="102">Chr01</text></g>
<g id="s1-pv-chr02"><rect class="pvo" x="893" y="106" width="180" height="44" rx="10"/><rect class="pvi" x="902" y="113.5" width="162" height="29" rx="10"/><text class="lbl" x="988" y="102">Chr02</text></g>
<g id="s1-pv-chr03"><rect class="pvo" x="1114" y="106" width="194" height="44" rx="10"/><rect class="pvi" x="1123.7" y="113.5" width="174.6" height="29" rx="10"/><text class="lbl" x="1216" y="102">Chr03</text></g>
<g id="s1-pv-chr04"><rect class="pvo" x="1348" y="106" width="175" height="44" rx="10"/><rect class="pvi" x="1356.8" y="113.5" width="157.5" height="29" rx="10"/><text class="lbl" x="1440.5" y="102">Chr04</text></g>
<g id="s1-pv-chr05"><rect class="pvo" x="1562" y="106" width="150" height="44" rx="10"/><rect class="pvi" x="1569.5" y="113.5" width="135" height="29" rx="10"/><text class="lbl" x="1642" y="102">Chr05</text></g>
<g id="s1-pv-chr06"><rect class="pvo" x="1753" y="106" width="112" height="44" rx="10"/><rect class="pvi" x="1758.6" y="113.5" width="100.8" height="29" rx="10"/><text class="lbl" x="1814" y="102">Chr06</text></g>
<g id="s1-pv-chr07"><rect class="pvo" x="1905" y="106" width="145" height="44" rx="10"/><rect class="pvi" x="1912.3" y="113.5" width="130.5" height="29" rx="10"/><text class="lbl" x="1982.5" y="102">Chr07</text></g>
<g id="s1-pv-chr08"><rect class="pvo" x="2090" y="106" width="230" height="44" rx="10"/><rect class="pvi" x="2101.5" y="113.5" width="207" height="29" rx="10"/><text class="lbl" x="2210" y="102">Chr08</text></g>
<g id="s1-pv-chr09"><rect class="pvo" x="2360" y="106" width="138" height="44" rx="10"/><rect class="pvi" x="2366.9" y="113.5" width="124.2" height="29" rx="10"/><text class="lbl" x="2434" y="102">Chr09</text></g>
<g id="s1-pv-chr10"><rect class="pvo" x="2538" y="106" width="161" height="44" rx="10"/><rect class="pvi" x="2546" y="113.5" width="144.9" height="29" rx="10"/><text class="lbl" x="2623.5" y="102">Chr10</text></g>
<g id="s1-pv-chr11"><rect class="pvo" x="2739" y="106" width="195" height="44" rx="10"/><rect class="pvi" x="2748.8" y="113.5" width="175.5" height="29" rx="10"/><text class="lbl" x="2841.5" y="102">Chr11</text></g>
</g>
<g id="s1-at">
<g id="at-chr01"><rect class="ato" x="665" y="567" width="534" height="44" rx="10"/><rect class="ati" x="691.7" y="574.5" width="480.6" height="29" rx="10"/><text class="lbl" x="947" y="638">Chr01</text></g>
<g id="at-chr02"><rect class="ato" x="1244" y="567" width="344" height="44" rx="10"/><rect class="ati" x="1261.2" y="574.5" width="309.6" height="29" rx="10"/><text class="lbl" x="1431" y="638">Chr02</text></g>
<g id="at-chr03"><rect class="ato" x="1633" y="567" width="410" height="44" rx="10"/><rect class="ati" x="1653.5" y="574.5" width="369" height="29" rx="10"/><text class="lbl" x="1853" y="638">Chr03</text></g>
<g id="at-chr04"><rect class="ato" x="2089" y="567" width="324" height="44" rx="10"/><rect class="ati" x="2105.2" y="574.5" width="291.6" height="29" rx="10"/><text class="lbl" x="2266" y="638">Chr04</text></g>
<g id="at-chr05"><rect class="ato" x="2459" y="567" width="472" height="44" rx="10"/><rect class="ati" x="2482.6" y="574.5" width="424.8" height="29" rx="10"/><text class="lbl" x="2710" y="638">Chr05</text></g>
</g>
<g id="s2-pv">
<g id="s2-pv-chr01"><rect class="pvo" x="665" y="738" width="188" height="44" rx="10"/><rect class="pvi" x="674.4" y="745.5" width="169.2" height="29" rx="10"/><text class="lbl" x="764" y="734">Chr01</text></g>
<g id="s2-pv-chr02"><rect class="pvo" x="893" y="738" width="180" height="44" rx="10"/><rect class="pvi" x="902" y="745.5" width="162" height="29" rx="10"/><text class="lbl" x="988" y="734">Chr02</text></g>
<g id="s2-pv-chr03"><rect class="pvo" x="1114" y="738" width="194" height="44" rx="10"/><rect class="pvi" x="1123.7" y="745.5" width="174.6" height="29" rx="10"/><text class="lbl" x="1216" y="734">Chr03</text></g>
<g id="s2-pv-chr04"><rect class="pvo" x="1348" y="738" width="175" height="44" rx="10"/><rect class="pvi" x="1356.8" y="745.5" width="157.5" height="29" rx="10"/><text class="lbl" x="1440.5" y="734">Chr04</text></g>
<g id="s2-pv-chr05"><rect class="pvo" x="1562" y="738" width="150" height="44" rx="10"/><rect class="pvi" x="1569.5" y="745.5" width="135" height="29" rx="10"/><text class="lbl" x="1642" y="734">Chr05</text></g>
<g id="s2-pv-chr06"><rect class="pvo" x="1753" y="738" width="112" height="44" rx="10"/><rect class="pvi" x="1758.6" y="745.5" width="100.8" height="29" rx="10"/><text class="lbl" x="1814" y="734">Chr06</text></g>
<g id="s2-pv-chr07"><rect class="pvo" x="1905" y="738" width="145" height="44" rx="10"/><rect class="pvi" x="1912.3" y="745.5" width="130.5" height="29" rx="10"/><text class="lbl" x="1982.5" y="734">Chr07</text></g>
<g id="s2-pv-chr08"><rect class="pvo" x="2090" y="738" width="230" height="44" rx="10"/><rect class="pvi" x="2101.5" y="745.5" width="207" height="29" rx="10"/><text class="lbl" x="2210" y="734">Chr08</text></g>
<g id="s2-pv-chr09"><rect class="pvo" x="2360" y="738" width="138" height="44" rx="10"/><rect class="pvi" x="2366.9" y="745.5" width="124.2" height="29" rx="10"/><text class="lbl" x="2434" y="734">Chr09</text></g>
<g id="s2-pv-chr10"><rect class="pvo" x="2538" y="738" width="161" height="44" rx="10"/><rect class="pvi" x="2546" y="745.5" width="144.9" height="29" rx="10"/><text class="lbl" x="2623.5" y="734">Chr10</text></g>
<g id="s2-pv-chr11"><rect class="pvo" x="2739" y="738" width="195" height="44" rx="10"/><rect class="pvi" x="2748.8" y="745.5" width="175.5" height="29" rx="10"/><text class="lbl" x="2841.5" y="734">Chr11</text></g>
</g>
<g id="s2-gm">
<g id="gm-chr01"><rect class="gmo" x="667" y="1199" width="94" height="44" rx="10"/><rect class="gmi" x="672.7" y="1206.5" width="82.6" height="29" rx="10"/><text class="lbl" x="714" y="1270">Chr01</text></g>
<g id="gm-chr02"><rect class="gmo" x="797" y="1199" width="83" height="44" rx="10"/><rect class="gmi" x="802.2" y="1206.5" width="72.7" height="29" rx="10"/><text class="lbl" x="838.5" y="1270">Chr02</text></g>
<g id="gm-chr03"><rect class="gmo" x="916" y="1199" width="75" height="44" rx="10"/><rect class="gmi" x="920.8" y="1206.5" width="65.5" height="29" rx="10"/><text class="lbl" x="953.5" y="1270">Chr03</text></g>
<g id="gm-chr04"><rect class="gmo" x="1028" y="1199" width="87" height="44" rx="10"/><rect class="gmi" x="1033.4" y="1206.5" width="76.3" height="29" rx="10"/><text class="lbl" x="1071.5" y="1270">Chr04</text></g>
<g id="gm-chr05"><rect class="gmo" x="1152" y="1199" width="70" height="44" rx="10"/><rect class="gmi" x="1156.5" y="1206.5" width="61" height="29" rx="10"/><text class="lbl" x="1187" y="1270">Chr05</text></g>
<g id="gm-chr06"><rect class="gmo" x="1258" y="1199" width="86" height="44" rx="10"/><rect class="gmi" x="1263.3" y="1206.5" width="75.4" height="29" rx="10"/><text class="lbl" x="1301" y="1270">Chr06</text></g>
<g id="gm-chr07"><rect class="gmo" x="1379" y="1199" width="74" height="44" rx="10"/><rect class="gmi" x="1383.7" y="1206.5" width="64.6" height="29" rx="10"/><text class="lbl" x="1416" y="1270">Chr07</text></g>
<g id="gm-chr08"><rect class="gmo" x="1488" y="1199" width="80" height="44" rx="10"/><rect class="gmi" x="1493" y="1206.5" width="70" height="29" rx="10"/><text class="lbl" x="1528" y="1270">Chr08</text></g>
<g id="gm-chr09"><rect class="gmo" x="1606" y="1199" width="86" height="44" rx="10"/><rect class="gmi" x="1611.3" y="1206.5" width="75.4" height="29" rx="10"/><text class="lbl" x="1649" y="1270">Chr09</text></g>
<g id="gm-chr10"><rect class="gmo" x="1728" y="1199" width="87" height="44" rx="10"/><rect class="gmi" x="1733.4" y="1206.5" width="76.3" height="29" rx="10"/><text class="lbl" x="1771.5" y="1270">Chr10</text></g>
<g id="gm-chr11"><rect class="gmo" x="1850" y="1199" width="58" height="44" rx="10"/><rect class="gmi" x="1853.9" y="1206.5" width="50.2" height="29" rx="10"/><text class="lbl" x="1879" y="1270">Chr11</text></g>
<g id="gm-chr12"><rect class="gmo" x="1943" y="1199" width="68" height="44" rx="10"/><rect class="gmi" x="1947.4" y="1206.5" width="59.2" height="29" rx="10"/><text class="lbl" x="1977" y="1270">Chr12</text></g>
<g id="gm-chr13"><rect class="gmo" x="2047" y="1199" width="75" height="44" rx="10"/><rect class="gmi" x="2051.8" y="1206.5" width="65.5" height="29" rx="10"/><text class="lbl" x="2084.5" y="1270">Chr13</text></g>
<g id="gm-chr14"><rect class="gmo" x="2158" y="1199" width="83" height="44" rx="10"/><rect class="gmi" x="2163.2" y="1206.5" width="72.7" height="29" rx="10"/><text class="lbl" x="2199.5" y="1270">Chr14</text></g>
<g id="gm-chr15"><rect class="gmo" x="2277" y="1199" width="87" height="44" rx="10"/><rect class="gmi" x="2282.4" y="1206.5" width="76.3" height="29" rx="10"/><text class="lbl" x="2320.5" y="1270">Chr15</text></g>
<g id="gm-chr16"><rect class="gmo" x="2400" y="1199" width="61" height="44" rx="10"/><rect class="gmi" x="2404.1" y="1206.5" width="52.9" height="29" rx="10"/><text class="lbl" x="2430.5" y="1270">Chr16</text></g>
<g id="gm-chr17"><rect class="gmo" x="2498" y="1199" width="70" height="44" rx="10"/><rect class="gmi" x="2502.5" y="1206.5" width="61" height="29" rx="10"/><text class="lbl" x="2533" y="1270">Chr17</text></g>
<g id="gm-chr18"><rect class="gmo" x="2603" y="1199" width="99" height="44" rx="10"/><rect class="gmi" x="2608" y="1206.5" width="87.1" height="29" rx="10"/><text class="lbl" x="2652.5" y="1270">Chr18</text></g>
<g id="gm-chr19"><rect class="gmo" x="2738" y="1199" width="86" height="44" rx="10"/><rect class="gmi" x="2743.3" y="1206.5" width="75.4" height="29" rx="10"/><text class="lbl" x="2781" y="1270">Chr19</text></g>
<g id="gm-chr20"><rect class="gmo" x="2859" y="1199" width="80" height="44" rx="10"/><rect class="gmi" x="2864" y="1206.5" width="70" height="29" rx="10"/><text class="lbl" x="2899" y="1270">Chr20</text></g>
</g>
<g id="s3-pv">
<g id="s3-pv-chr01"><rect class="pvo" x="665" y="1378" width="188" height="44" rx="10"/><rect class="pvi" x="674.4" y="1385.5" width="169.2" height="29" rx="10"/><text class="lbl" x="764" y="1374">Chr01</text></g>
<g id="s3-pv-chr02"><rect class="pvo" x="893" y="1378" width="180" height="44" rx="10"/><rect class="pvi" x="902" y="1385.5" width="162" height="29" rx="10"/><text class="lbl" x="988" y="1374">Chr02</text></g>
<g id="s3-pv-chr03"><rect class="pvo" x="1114" y="1378" width="194" height="44" rx="10"/><rect class="pvi" x="1123.7" y="1385.5" width="174.6" height="29" rx="10"/><text class="lbl" x="1216" y="1374">Chr03</text></g>
<g id="s3-pv-chr04"><rect class="pvo" x="1348" y="1378" width="175" height="44" rx="10"/><rect class="pvi" x="1356.8" y="1385.5" width="157.5" height="29" rx="10"/><text class="lbl" x="1440.5" y="1374">Chr04</text></g>
<g id="s3-pv-chr05"><rect class="pvo" x="1562" y="1378" width="150" height="44" rx="10"/><rect class="pvi" x="1569.5" y="1385.5" width="135" height="29" rx="10"/><text class="lbl" x="1642" y="1374">Chr05</text></g>
<g id="s3-pv-chr06"><rect class="pvo" x="1753" y="1378" width="112" height="44" rx="10"/><rect class="pvi" x="1758.6" y="1385.5" width="100.8" height="29" rx="10"/><text class="lbl" x="1814" y="1374">Chr06</text></g>
<g id="s3-pv-chr07"><rect class="pvo" x="1905" y="1378" width="145" height="44" rx="10"/><rect class="pvi" x="1912.3" y="1385.5" width="130.5" height="29" rx="10"/><text class="lbl" x="1982.5" y="1374">Chr07</text></g>
<g id="s3-pv-chr08"><rect class="pvo" x="2090" y="1378" width="230" height="44" rx="10"/><rect class="pvi" x="2101.5" y="1385.5" width="207" height="29" rx="10"/><text class="lbl" x="2210" y="1374">Chr08</text></g>
<g id="s3-pv-chr09"><rect class="pvo" x="2360" y="1378" width="138" height="44" rx="10"/><rect class="pvi" x="2366.9" y="1385.5" width="124.2" height="29" rx="10"/><text class="lbl" x="2434" y="1374">Chr09</text></g>
<g id="s3-pv-chr10"><rect class="pvo" x="2538" y="1378" width="161" height="44" rx="10"/><rect class="pvi" x="2546" y="1385.5" width="144.9" height="29" rx="10"/><text class="lbl" x="2623.5" y="1374">Chr10</text></g>
<g id="s3-pv-chr11"><rect class="pvo" x="2739" y="1378" width="195" height="44" rx="10"/><rect class="pvi" x="2748.8" y="1385.5" width="175.5" height="29" rx="10"/><text class="lbl" x="2841.5" y="1374">Chr11</text></g>
</g>
<g id="s3-os">
<g id="os-chr01"><rect class="oso" x="835" y="1839" width="193" height="44" rx="10"/><rect class="osi" x="844.7" y="1846.5" width="173.7" height="29" rx="10"/><text class="lbl" x="936.5" y="1910">Chr01</text></g>
<g id="os-chr02"><rect class="oso" x="1068" y="1839" width="161" height="44" rx="10"/><rect class="osi" x="1076" y="1846.5" width="144.9" height="29" rx="10"/><text class="lbl" x="1153.5" y="1910">Chr02</text></g>
<g id="os-chr03"><rect class="oso" x="1269" y="1839" width="162" height="44" rx="10"/><rect class="osi" x="1277.1" y="1846.5" width="145.8" height="29" rx="10"/><text class="lbl" x="1355" y="1910">Chr03</text></g>
<g id="os-chr04"><rect class="oso" x="1473" y="1839" width="158" height="44" rx="10"/><rect class="osi" x="1480.9" y="1846.5" width="142.2" height="29" rx="10"/><text class="lbl" x="1557" y="1910">Chr04</text></g>
<g id="os-chr05"><rect class="oso" x="1671" y="1839" width="132" height="44" rx="10"/><rect class="osi" x="1677.6" y="1846.5" width="118.8" height="29" rx="10"/><text class="lbl" x="1742" y="1910">Chr05</text></g>
<g id="os-chr06"><rect class="oso" x="1843" y="1839" width="139" height="44" rx="10"/><rect class="osi" x="1850" y="1846.5" width="125.1" height="29" rx="10"/><text class="lbl" x="1917.5" y="1910">Chr06</text></g>
<g id="os-chr07"><rect class="oso" x="2022" y="1839" width="131" height="44" rx="10"/><rect class="osi" x="2028.6" y="1846.5" width="117.9" height="29" rx="10"/><text class="lbl" x="2092.5" y="1910">Chr07</text></g>
<g id="os-chr08"><rect class="oso" x="2194" y="1839" width="126" height="44" rx="10"/><rect class="osi" x="2200.3" y="1846.5" width="113.4" height="29" rx="10"/><text class="lbl" x="2262" y="1910">Chr08</text></g>
<g id="os-chr09"><rect class="oso" x="2360" y="1839" width="102" height="44" rx="10"/><rect class="osi" x="2365.1" y="1846.5" width="91.8" height="29" rx="10"/><text class="lbl" x="2416" y="1910">Chr09</text></g>
<g id="os-chr10"><rect class="oso" x="2501" y="1839" width="103" height="44" rx="10"/><rect class="osi" x="2506.2" y="1846.5" width="92.7" height="29" rx="10"/><text class="lbl" x="2557.5" y="1910">Chr10</text></g>
<g id="os-chr11"><rect class="oso" x="2644" y="1839" width="129" height="44" rx="10"/><rect class="osi" x="2650.5" y="1846.5" width="116.1" height="29" rx="10"/><text class="lbl" x="2713.5" y="1910">Chr11</text><text x="2713" y="1836" font-family="Liberation Sans, Arial, sans-serif" font-size="24" fill="#FFCB9E" text-anchor="middle">11</text></g>
<g id="os-chr12"><rect class="oso" x="2813" y="1839" width="122" height="44" rx="10"/><rect class="osi" x="2819.1" y="1846.5" width="109.8" height="29" rx="10"/><text class="lbl" x="2879" y="1910">Chr12</text></g>
</g>
<g id="s4-pv">
<g id="s4-pv-chr01"><rect class="pvo" x="665" y="2019" width="188" height="44" rx="10"/><rect class="pvi" x="674.4" y="2026.5" width="169.2" height="29" rx="10"/><text class="lbl" x="764" y="2015">Chr01</text></g>
<g id="s4-pv-chr02"><rect class="pvo" x="893" y="2019" width="180" height="44" rx="10"/><rect class="pvi" x="902" y="2026.5" width="162" height="29" rx="10"/><text class="lbl" x="988" y="2015">Chr02</text></g>
<g id="s4-pv-chr03"><rect class="pvo" x="1114" y="2019" width="194" height="44" rx="10"/><rect class="pvi" x="1123.7" y="2026.5" width="174.6" height="29" rx="10"/><text class="lbl" x="1216" y="2015">Chr03</text></g>
<g id="s4-pv-chr04"><rect class="pvo" x="1348" y="2019" width="175" height="44" rx="10"/><rect class="pvi" x="1356.8" y="2026.5" width="157.5" height="29" rx="10"/><text class="lbl" x="1440.5" y="2015">Chr04</text></g>
<g id="s4-pv-chr05"><rect class="pvo" x="1562" y="2019" width="150" height="44" rx="10"/><rect class="pvi" x="1569.5" y="2026.5" width="135" height="29" rx="10"/><text class="lbl" x="1642" y="2015">Chr05</text></g>
<g id="s4-pv-chr06"><rect class="pvo" x="1753" y="2019" width="112" height="44" rx="10"/><rect class="pvi" x="1758.6" y="2026.5" width="100.8" height="29" rx="10"/><text class="lbl" x="1814" y="2015">Chr06</text></g>
<g id="s4-pv-chr07"><rect class="pvo" x="1905" y="2019" width="145" height="44" rx="10"/><rect class="pvi" x="1912.3" y="2026.5" width="130.5" height="29" rx="10"/><text class="lbl" x="1982.5" y="2015">Chr07</text></g>
<g id="s4-pv-chr08"><rect class="pvo" x="2090" y="2019" width="230" height="44" rx="10"/><rect class="pvi" x="2101.5" y="2026.5" width="207" height="29" rx="10"/><text class="lbl" x="2210" y="2015">Chr08</text></g>
<g id="s4-pv-chr09"><rect class="pvo" x="2360" y="2019" width="138" height="44" rx="10"/><rect class="pvi" x="2366.9" y="2026.5" width="124.2" height="29" rx="10"/><text class="lbl" x="2434" y="2015">Chr09</text></g>
<g id="s4-pv-chr10"><rect class="pvo" x="2538" y="2019" width="161" height="44" rx="10"/><rect class="pvi" x="2546" y="2026.5" width="144.9" height="29" rx="10"/><text class="lbl" x="2623.5" y="2015">Chr10</text></g>
<g id="s4-pv-chr11"><rect class="pvo" x="2739" y="2019" width="195" height="44" rx="10"/><rect class="pvi" x="2748.8" y="2026.5" width="175.5" height="29" rx="10"/><text class="lbl" x="2841.5" y="2015">Chr11</text></g>
</g>
<g id="s4-zm">
<g id="zm-chr01"><rect class="zmo" x="667" y="2480" width="274" height="44" rx="10"/><rect class="zmi" x="680.7" y="2487.5" width="246.6" height="29" rx="10"/><text class="lbl" x="810" y="2551">Chr01</text></g>
<g id="zm-chr02"><rect class="zmo" x="982" y="2480" width="217" height="44" rx="10"/><rect class="zmi" x="992.9" y="2487.5" width="195.3" height="29" rx="10"/><text class="lbl" x="1096.5" y="2551">Chr02</text></g>
<g id="zm-chr03"><rect class="zmo" x="1241" y="2480" width="212" height="44" rx="10"/><rect class="zmi" x="1251.6" y="2487.5" width="190.8" height="29" rx="10"/><text class="lbl" x="1353" y="2551">Chr03</text></g>
<g id="zm-chr04"><rect class="zmo" x="1493" y="2480" width="225" height="44" rx="10"/><rect class="zmi" x="1504.3" y="2487.5" width="202.5" height="29" rx="10"/><text class="lbl" x="1611.5" y="2551">Chr04</text></g>
<g id="zm-chr05"><rect class="zmo" x="1759" y="2480" width="202" height="44" rx="10"/><rect class="zmi" x="1769.1" y="2487.5" width="181.8" height="29" rx="10"/><text class="lbl" x="1866" y="2551">Chr05</text></g>
<g id="zm-chr06"><rect class="zmo" x="2002" y="2480" width="161" height="44" rx="10"/><rect class="zmi" x="2010.1" y="2487.5" width="144.9" height="29" rx="10"/><text class="lbl" x="2088.5" y="2551">Chr06</text></g>
<g id="zm-chr07"><rect class="zmo" x="2204" y="2480" width="164" height="44" rx="10"/><rect class="zmi" x="2212.2" y="2487.5" width="147.6" height="29" rx="10"/><text class="lbl" x="2292" y="2551">Chr07</text></g>
<g id="zm-chr08"><rect class="zmo" x="2410" y="2480" width="161" height="44" rx="10"/><rect class="zmi" x="2418.1" y="2487.5" width="144.9" height="29" rx="10"/><text class="lbl" x="2496.5" y="2551">Chr08</text></g>
<g id="zm-chr09"><rect class="zmo" x="2613" y="2480" width="145" height="44" rx="10"/><rect class="zmi" x="2620.3" y="2487.5" width="130.5" height="29" rx="10"/><text class="lbl" x="2691.5" y="2551">Chr09</text></g>
<g id="zm-chr10"><rect class="zmo" x="2798" y="2480" width="136" height="44" rx="10"/><rect class="zmi" x="2804.8" y="2487.5" width="122.4" height="29" rx="10"/><text class="lbl" x="2872" y="2551">Chr10</text></g>
</g>
</svg>
